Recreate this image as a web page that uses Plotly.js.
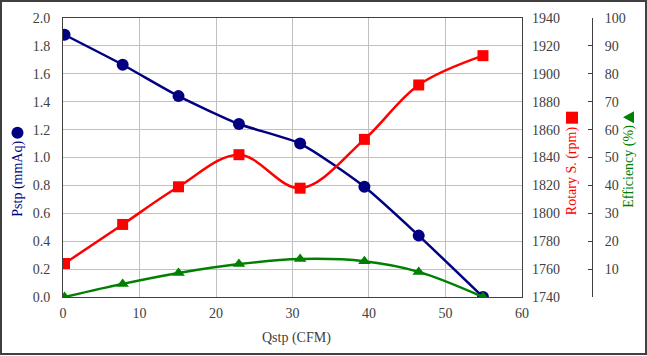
<!DOCTYPE html>
<html>
<head>
<meta charset="utf-8">
<script src="https://cdn.plot.ly/plotly-3.0.1.min.js"></script>
<style>
  html, body { margin: 0; padding: 0; background: #fff; }
  #wrap { position: relative; width: 647px; height: 356px; }
  #chart { width: 647px; height: 356px; }
  #frame { position: absolute; left: 0; top: 0; width: 647px; height: 355px; box-sizing: border-box;
           border: 2px solid #404040; pointer-events: none; }
</style>
</head>
<body>
<div id="wrap"><div id="chart"></div><div id="frame"></div></div>
<script>
// Data
const qstp = [0.2, 7.8, 15.1, 23.0, 31.0, 39.4, 46.5, 54.9];          // CFM
const pstp = [1.88, 1.665, 1.44, 1.24, 1.10, 0.79, 0.44, 0.0];         // mmAq
const rotary = [1764, 1792, 1819, 1842, 1818, 1853, 1892, 1913];       // rpm
const efficiency = [0, 4.7, 8.6, 11.8, 13.6, 12.8, 9.0, 0];            // %

const xTicks = [0, 10, 20, 30, 40, 50, 60];
const effTicks = [0, 10, 20, 30, 40, 50, 60, 70, 80, 90, 100];
const effTickText = ['', '10', '20', '30', '40', '50', '60', '70', '80', '90', '100'];

const FONT = 'Liberation Serif';
const TICKCOL = '#404040';
const NAVY = '#000080', RED = '#ff0000', GREEN = '#008000';

const traces = [
  { x: qstp, y: pstp, type: 'scatter', mode: 'lines+markers', yaxis: 'y',
    line: { color: NAVY, width: 2.5, shape: 'spline', smoothing: 0.6 },
    marker: { symbol: 'circle', size: 12, color: NAVY } },
  { x: qstp, y: rotary, type: 'scatter', mode: 'lines+markers', yaxis: 'y2',
    line: { color: RED, width: 2.5, shape: 'spline', smoothing: 1 },
    marker: { symbol: 'square', size: 11, color: RED } },
  { x: qstp, y: efficiency, type: 'scatter', mode: 'lines+markers', yaxis: 'y3',
    line: { color: GREEN, width: 2.5, shape: 'spline', smoothing: 1 },
    marker: { symbol: 'triangle-up', size: 11, color: GREEN } }
];

const tickFont = { family: FONT, size: 14, color: TICKCOL };

function ann(x, y, text, color, size, angle) {
  return { xref: 'paper', yref: 'paper', x: x, y: y, xanchor: 'center', yanchor: 'middle',
           textangle: angle, showarrow: false, text: text,
           font: { family: FONT, size: size, color: color } };
}

const layout = {
  width: 647, height: 356,
  margin: { l: 63, r: 30, t: 18, b: 59 },
  paper_bgcolor: '#ffffff', plot_bgcolor: '#ffffff',
  showlegend: false,
  font: { family: FONT, size: 14, color: TICKCOL },
  xaxis: {
    domain: [0, 0.8285], range: [0, 60], tickvals: xTicks,
    showgrid: true, gridcolor: '#c0c0c0', gridwidth: 1,
    showline: true, linecolor: '#404040', linewidth: 1, mirror: true,
    ticks: '', tickfont: tickFont, ticklabelstandoff: 3, zeroline: false
  },
  yaxis: {
    range: [0, 2], dtick: 0.2, tick0: 0, tickformat: '.1f',
    showgrid: true, gridcolor: '#c0c0c0', gridwidth: 1,
    showline: true, linecolor: '#404040', linewidth: 1, mirror: true,
    ticks: '', tickfont: tickFont, ticklabelstandoff: 9, zeroline: false
  },
  yaxis2: {
    overlaying: 'y', side: 'right', anchor: 'x',
    range: [1740, 1940], dtick: 20, tick0: 1740,
    showgrid: false, showline: false, ticks: '', tickfont: tickFont,
    ticklabelstandoff: 9, zeroline: false
  },
  yaxis3: {
    overlaying: 'y', side: 'right', anchor: 'free', position: 0.9549,
    range: [0, 100], tickvals: effTicks, ticktext: effTickText,
    showgrid: false, showline: true, linecolor: '#404040', linewidth: 1,
    ticks: 'inside', ticklen: 4, tickcolor: '#404040', tickfont: tickFont,
    ticklabelstandoff: 9, zeroline: false
  },
  annotations: [
    ann(-0.0812, 0.424, 'Pstp (mmAq)', NAVY, 14, -90),
    ann(0.9188, 0.451, 'Rotary S. (rpm)', RED, 14, -90),
    ann(1.0217, 0.467, 'Efficiency (%)', GREEN, 14, -90),
    ann(0.4218, -0.146, 'Qstp (CFM)', TICKCOL, 14, 0)
  ],
  shapes: [
    // series key symbols next to the axis titles
    { type: 'circle', xref: 'paper', yref: 'paper', x0: -0.0930, x1: -0.0713, y0: 0.5674, y1: 0.6104,
      fillcolor: NAVY, line: { width: 0 } },
    { type: 'rect', xref: 'paper', yref: 'paper', x0: 0.9079, x1: 0.9296, y0: 0.6211, y1: 0.6642,
      fillcolor: RED, line: { width: 0 } },
    { type: 'path', xref: 'paper', yref: 'paper',
      path: 'M 1.0108 0.6444 L 1.0307 0.666 L 1.0307 0.6229 Z',
      fillcolor: GREEN, line: { width: 0 } }
  ]
};

Plotly.newPlot('chart', traces, layout, { staticPlot: true, displayModeBar: false });
</script>
</body>
</html>
